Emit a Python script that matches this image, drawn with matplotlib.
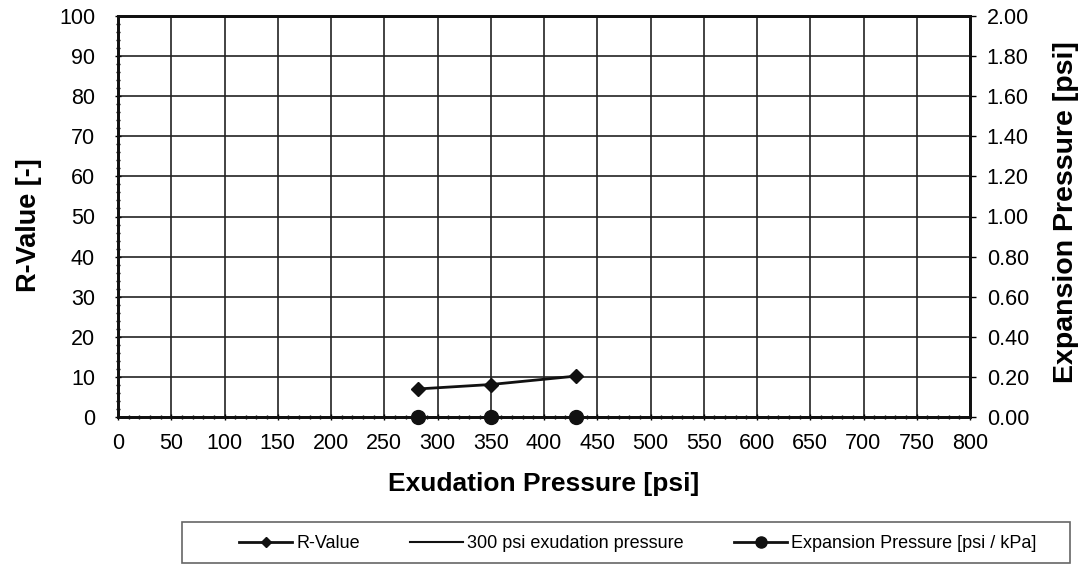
import matplotlib.pyplot as plt
from matplotlib.lines import Line2D
from matplotlib.patches import Rectangle
import numpy as np

plt.rcParams['font.family'] = ['Liberation Sans', 'DejaVu Sans']

# data
exud_pressure = [282, 350, 430]
r_value = [7.0, 8.1, 10.2]
expansion_pressure = [0.0, 0.0, 0.0]

x_ticks = list(range(0, 801, 50))
r_ticks = list(range(0, 101, 10))
exp_ticks = [0.0, 0.2, 0.4, 0.6, 0.8, 1.0, 1.2, 1.4, 1.6, 1.8, 2.0]

W, H = 1079, 565
fig = plt.figure(figsize=(W / 100, H / 100), dpi=100)
ax = fig.add_axes([118 / W, 1 - 417 / H, (970 - 118) / W, (417 - 16) / H])
ax2 = ax.twinx()

ax.set_xlim(0, 800)
ax.set_ylim(0, 100)
ax2.set_ylim(0, 2.0)

ax.set_xticks(x_ticks)
ax.set_yticks(r_ticks)
ax.set_xticks(range(0, 801, 10), minor=True)
ax.set_yticks(range(0, 101, 2), minor=True)
ax2.set_yticks(exp_ticks)
ax2.set_yticklabels([f"{v:.2f}" for v in exp_ticks])

ax.grid(True, which='major', color='#222222', linewidth=1.2)
ax.set_axisbelow(True)

for a in (ax, ax2):
    for sp in a.spines.values():
        sp.set_linewidth(2)
        sp.set_color('#111111')

ax.tick_params(axis='both', which='major', labelsize=15.5, length=5, width=1, direction='inout')
ax.tick_params(axis='x', which='major', pad=9)
ax.tick_params(axis='y', which='major', pad=14)
ax.tick_params(axis='both', which='minor', length=3, width=1, direction='inout')
ax2.tick_params(axis='y', which='major', labelsize=15.5, length=4, width=1, direction='out', pad=8)

ax.plot(exud_pressure, r_value, color='#111111', marker='D', markersize=7, linewidth=2, zorder=5, clip_on=False)
ax2.plot(exud_pressure, expansion_pressure, color='#111111', marker='o', markersize=10, linewidth=2, zorder=5, clip_on=False)

ax.set_xlabel('Exudation Pressure [psi]', fontsize=19, fontweight='bold')
ax.set_ylabel('R-Value [-]', fontsize=19.5, fontweight='bold')
ax2.set_ylabel('Expansion Pressure [psi]', fontsize=20.5, fontweight='bold')
ax.xaxis.label.set_va('center')
ax.yaxis.label.set_va('center')
ax2.yaxis.label.set_va('center')
ax.xaxis.set_label_coords(0.5, -(484 - 417) / 401)
ax.yaxis.set_label_coords((29 - 118) / 852, 1 - (225 - 16) / 401)
ax2.yaxis.set_label_coords((1066 - 118) / 852, 1 - (212 - 16) / 401)

# legend box (drawn separately: the original has wide side margins)
fig.patches.append(Rectangle((182 / W, 1 - 563 / H), (1070 - 182) / W, (563 - 522) / H,
                             transform=fig.transFigure, fill=False, edgecolor='#666666', linewidth=1.2))

handles = [
    Line2D([], [], color='#111111', marker='D', markersize=5, linewidth=2),
    Line2D([], [], color='#111111', linewidth=1.5),
    Line2D([], [], color='#111111', marker='o', markersize=8, linewidth=2),
]
labels = ['R-Value', '300 psi exudation pressure', 'Expansion Pressure [psi / kPa]']
fig.legend(handles, labels, loc='center', bbox_to_anchor=(638 / W, 1 - 544 / H),
           ncol=3, fontsize=13, frameon=False, handlelength=2.9, handletextpad=0.25,
           columnspacing=2.8, borderpad=0)

fig.savefig('out.png', dpi=100)
